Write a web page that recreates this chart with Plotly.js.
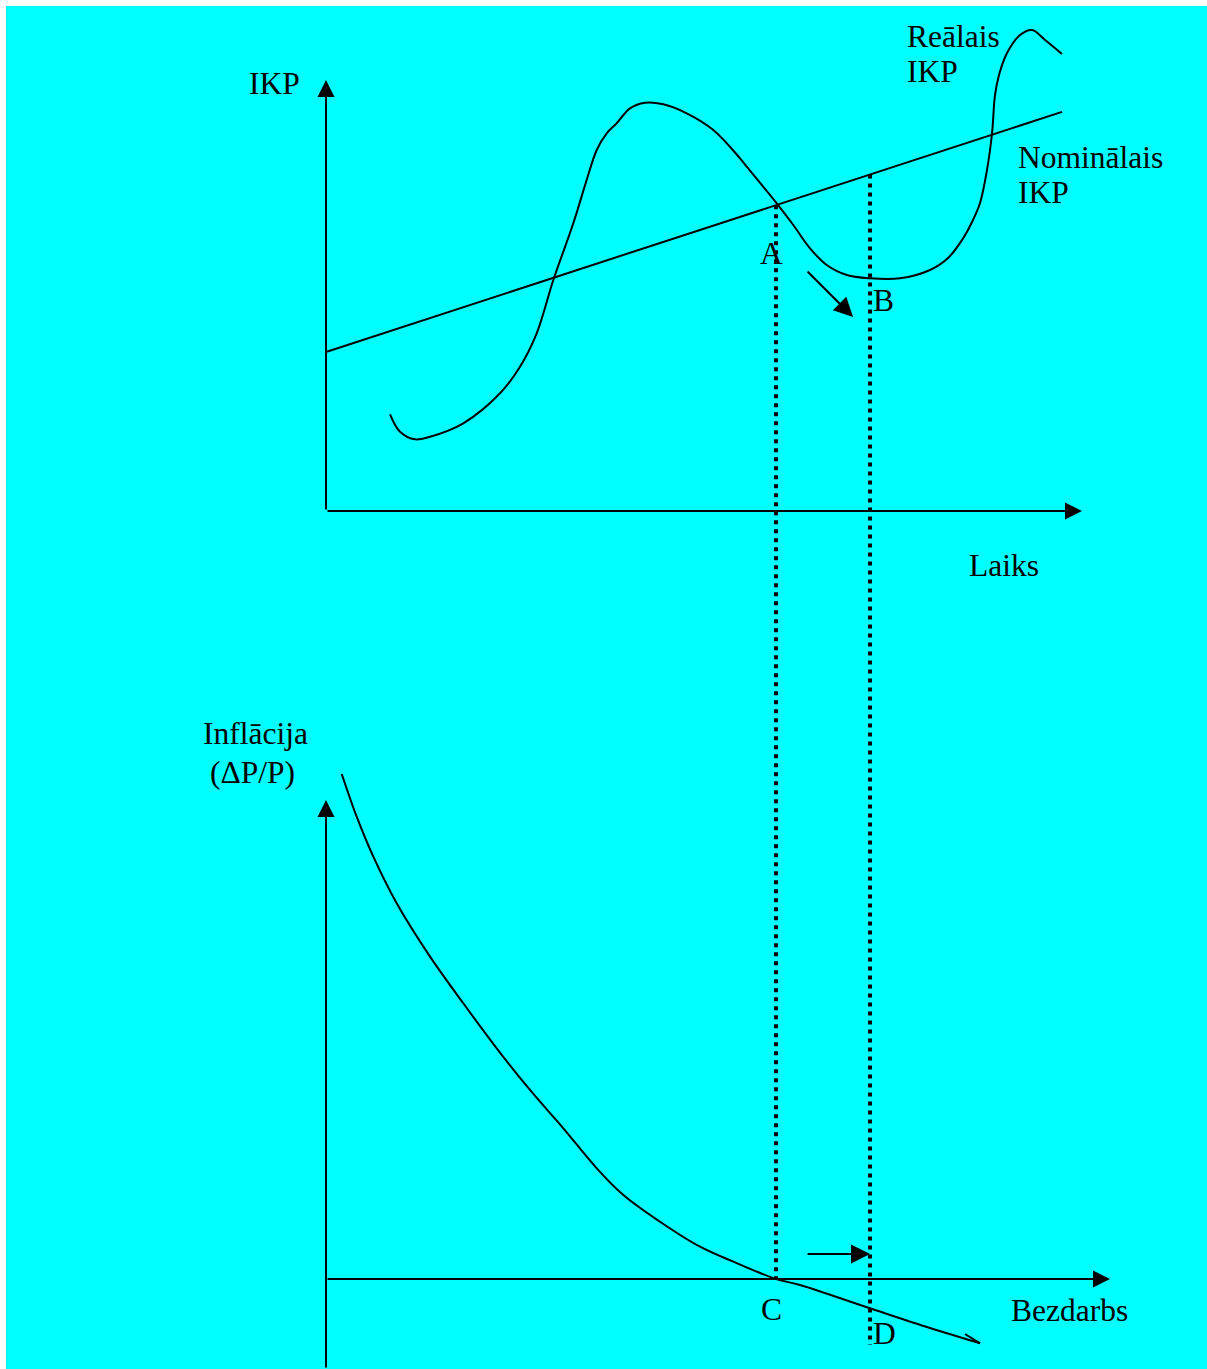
<!DOCTYPE html>
<html>
<head>
<meta charset="utf-8">
<script src="https://cdn.plot.ly/plotly-3.0.1.min.js"></script>
<style>html,body{margin:0;padding:0;background:#fff;}#chart{width:1207px;height:1369px;}</style>
</head>
<body>
<div id="chart"></div>
<script>
// ---- Data (abstract units: time / GDP / unemployment / inflation) ----
const realX = [8.47, 9.79, 11.77, 13.76, 18.16, 23.02, 25.66, 27.87, 30.07, 32.71, 34.48, 35.81, 37.13, 38.45, 40.21, 42.2, 44.62, 47.71, 51.23, 54.76, 55.65, 59.62, 61.81, 64.02, 66.23, 68.88, 71.96, 75.93, 79.89, 82.28, 84.13, 85.45, 86.51, 87.43, 88.1, 88.49, 89.02, 90.08, 91.8, 93.39, 95.11, 97.35];
const realY = [22.44, 18.4, 16.64, 17.24, 20.35, 27.31, 33.48, 41.23, 53.6, 66.75, 76.8, 83.76, 87.63, 89.95, 93.43, 94.73, 94.36, 92.27, 88.4, 81.83, 79.88, 71.39, 66.36, 60.95, 57.08, 54.76, 53.99, 53.99, 55.92, 58.7, 62.88, 67.05, 71.46, 79.12, 87.7, 96.52, 101.16, 106.26, 110.44, 111.6, 109.28, 106.03];
const nominalX = [0, 97.35];
const nominalY = [36.9, 92.6];
const phillipsX = [2.08, 4.06, 6.26, 9.35, 13.76, 18.16, 22.58, 26.98, 31.39, 35.81, 39.33, 44.18, 49.47, 53.88, 59.52, 62.7, 71.96, 79.89, 86.51];
const phillipsY = [105.43, 96.51, 88.16, 78.43, 67.29, 57.56, 48.16, 39.46, 31.46, 23.11, 17.54, 11.96, 6.74, 3.61, 0, -1.25, -6.12, -10.23, -13.42];
const phillipsTailX = [86.51, 84.52];
const phillipsTailY = [-13.42, -11.48];
// guide lines A->C and B->D
const guideX = [59.52, 71.96];
const guideBottom = [0, -13.8];
// movement arrows
const moveTopX = [63.49, 69.71];
const moveTopY = [55.92, 45.01];
const moveBottomX = [63.49, 71.96];
const moveBottomY = [5.22, 5.22];
// axis extents
const topAxisX = [0, 100];
const topAxisY = [0, 100];
const bottomAxisX = [0, 103.7];
const bottomAxisY = [0, 100];

// ---- Layout helpers ----
const W = 1207, H = 1369;
const xr = [-43.12, 116.53];
const y1r = [-199.07, 118.56];
const y2r = [-18.79, 267.01];
function y2ToY1(v) { const f = (v - y2r[0]) / (y2r[1] - y2r[0]); return y1r[0] + f * (y1r[1] - y1r[0]); }
function nominalAt(x) { return nominalY[0] + (x - nominalX[0]) * (nominalY[1] - nominalY[0]) / (nominalX[1] - nominalX[0]); }

const traces = [
  {x: realX, y: realY, mode: 'lines', line: {color: '#000', width: 2, shape: 'spline', smoothing: 1}, xaxis: 'x', yaxis: 'y', hoverinfo: 'skip'},
  {x: nominalX, y: nominalY, mode: 'lines', line: {color: '#000', width: 2}, xaxis: 'x', yaxis: 'y', hoverinfo: 'skip'},
  {x: phillipsX, y: phillipsY, mode: 'lines', line: {color: '#000', width: 2, shape: 'spline', smoothing: 1}, xaxis: 'x', yaxis: 'y2', hoverinfo: 'skip'},
  {x: phillipsTailX, y: phillipsTailY, mode: 'lines', line: {color: '#000', width: 2}, xaxis: 'x', yaxis: 'y2', hoverinfo: 'skip'}
];
guideX.forEach((gx, i) => {
  traces.push({x: [gx, gx], y: [nominalAt(gx), y2ToY1(guideBottom[i])], mode: 'lines',
    line: {color: '#000', width: 4, dash: '4px,5px'}, xaxis: 'x', yaxis: 'y', hoverinfo: 'skip'});
});

function arrow(x0, y0, x1, y1, yref, size) {
  return {x: x1, y: y1, ax: x0, ay: y0, xref: 'x', yref: yref, axref: 'x', ayref: yref,
    text: '', showarrow: true, arrowhead: 2, arrowsize: size, arrowwidth: 2, arrowcolor: '#000', standoff: 0, startstandoff: 0};
}
const font = {family: 'Liberation Serif, Times New Roman, serif', size: 31.5, color: '#000'};
function label(text, px, py, anchor) {
  return {text: text, x: px / W, y: 1 - py / H, xref: 'paper', yref: 'paper', showarrow: false,
    xanchor: anchor || 'center', yanchor: 'middle', font: font};
}

const annotations = [
  arrow(topAxisX[0], topAxisY[0], topAxisX[0], topAxisY[1], 'y', 1.7),
  arrow(topAxisX[0], topAxisY[0], topAxisX[1], topAxisY[0], 'y', 1.7),
  arrow(bottomAxisX[0], y2r[0], bottomAxisX[0], bottomAxisY[1], 'y2', 1.7),
  arrow(bottomAxisX[0], bottomAxisY[0], bottomAxisX[1], bottomAxisY[0], 'y2', 1.7),
  arrow(moveTopX[0], moveTopY[0], moveTopX[1], moveTopY[1], 'y', 1.9),
  arrow(moveBottomX[0], moveBottomY[0], moveBottomX[1], moveBottomY[1], 'y2', 1.9),
  label('IKP', 274, 84),
  label('Reālais', 905, 37, 'left'),
  label('IKP', 905, 72, 'left'),
  label('Nominālais', 1016, 157, 'left'),
  label('IKP', 1016, 193, 'left'),
  label('Laiks', 1004, 565),
  label('A', 771, 253),
  label('B', 883, 300),
  label('Inflācija', 255, 733),
  label('(ΔP/P)', 252, 772),
  label('C', 771, 1309),
  label('D', 884, 1333),
  label('Bezdarbs', 1069, 1310)
];

const layout = {
  width: W, height: H,
  margin: {l: 0, r: 0, t: 0, b: 0, pad: 0},
  paper_bgcolor: '#00FFFF',
  plot_bgcolor: 'rgba(0,0,0,0)',
  showlegend: false,
  xaxis: {range: xr, visible: false, fixedrange: true},
  yaxis: {range: y1r, visible: false, fixedrange: true},
  yaxis2: {range: y2r, visible: false, fixedrange: true, overlaying: 'y'},
  shapes: [
    {type: 'rect', xref: 'paper', yref: 'paper', x0: 0, x1: 6 / W, y0: 0, y1: 1, fillcolor: '#fff', line: {width: 0}, layer: 'below'},
    {type: 'rect', xref: 'paper', yref: 'paper', x0: 0, x1: 1, y0: 1 - 6 / H, y1: 1, fillcolor: '#fff', line: {width: 0}, layer: 'below'}
  ],
  annotations: annotations
};

Plotly.newPlot('chart', traces, layout, {staticPlot: true, displayModeBar: false});
</script>
</body>
</html>
